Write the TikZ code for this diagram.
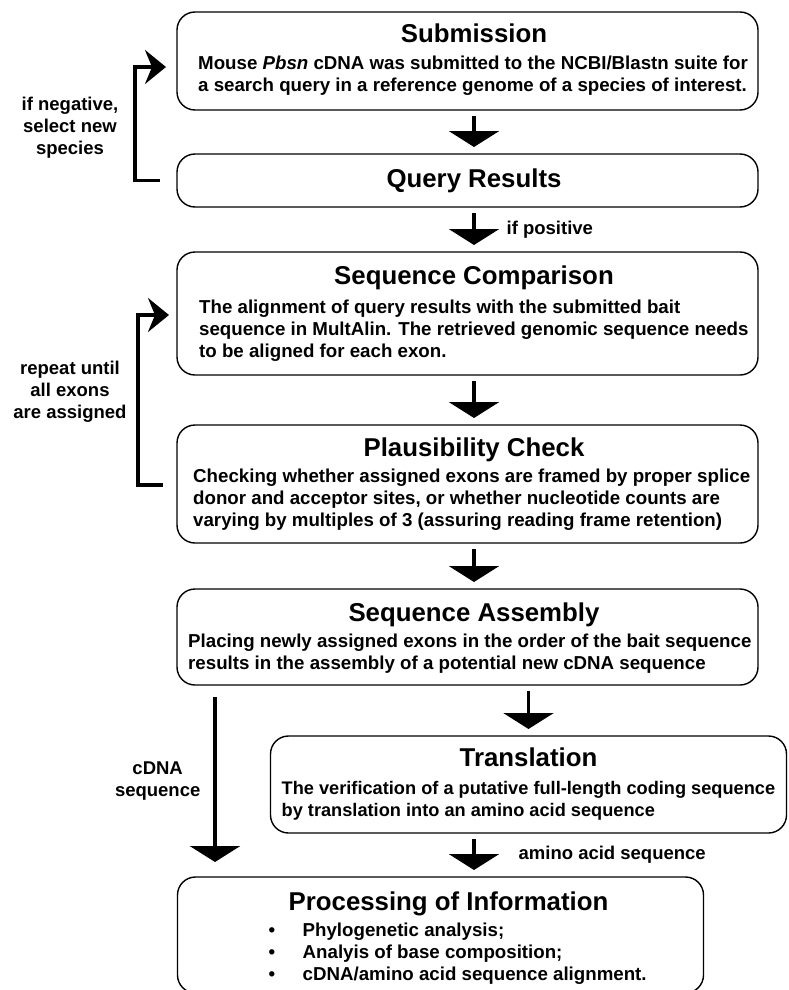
\documentclass[tikz,border=0pt]{standalone}
\usepackage{fontspec}
\setmainfont{Liberation Sans}
\usetikzlibrary{arrows.meta, positioning}

\begin{document}
\begin{tikzpicture}[x=1pt, y=-1pt,
		box/.style={draw, rounded corners=18pt, line width=1.4pt, minimum width=581pt, inner sep=0pt, outer sep=0pt},
		ttl/.style={inner sep=0pt, anchor=base, font=\fontsize{25.8}{30}\selectfont\bfseries},
		txt/.style={inner sep=0pt, anchor=north west, align=left, font=\fontsize{18.7}{22}\selectfont\bfseries},
		lbl/.style={inner sep=0pt, align=center, font=\fontsize{18.5}{22}\selectfont\bfseries},
		flowarrow/.style={-{Triangle[width=50pt, length=16pt]}, line width=3.3pt, shorten <=6pt, shorten >=7pt},
		backarrow/.style={-{Stealth[width=34pt, length=21pt, inset=7pt]}, line width=3.3pt}]

			\useasboundingbox (0,0) rectangle (788,990);

				\node [box, minimum height=98pt]	(sub)					at (467.5,61) {};
				\node [box, minimum height=53pt]	(qry)	[below=44pt of sub]		{};
				\node [box, minimum height=123pt]	(cmp)	[below=45pt of qry]		{};
				\node [box, minimum height=118pt]	(plaus)	[below=50pt of cmp]		{};
				\node [box, minimum height=96pt]	(asm)	[below=46pt of plaus]	{};
				\node [box, minimum height=97pt, minimum width=516pt]	(trans)	[below=51pt of asm, xshift=61pt]	{};
				\node [box, minimum height=116pt, minimum width=526pt]	(proc)	[below=44pt of trans, xshift=-88pt]	{};

				\coordinate (spine)	at (474,0);
				\coordinate (cdna)	at (215,0);

				\node [ttl, yshift=-31pt]	(subttl)	at (sub.north -| spine)		{Submission};
				\node [ttl, yshift=-7pt]	(qryttl)	at (qry.center -| spine)	{Query Results};
				\node [ttl, yshift=-32pt]	(cmpttl)	at (cmp.north -| spine)		{Sequence Comparison};
				\node [ttl, yshift=-31pt]	(plausttl)	at (plaus.north -| spine)	{Plausibility Check};
				\node [ttl, yshift=-32pt]	(asmttl)	at (asm.north -| spine)		{Sequence Assembly};
				\node [ttl, yshift=-30pt]	(transttl)	at (trans.north)			{Translation};
				\node [ttl, yshift=-33pt, xshift=8pt]	(procttl)	at (proc.north)	{Processing of Information};

				\node [txt, xshift=21pt, yshift=-44pt]	(subtxt)	at (sub.north west)
					{Mouse \textit{Pbsn} cDNA was submitted to the NCBI/Blastn suite for\\a search query in a reference genome of a species of interest.};
				\node [txt, xshift=22pt, yshift=-48pt]	(cmptxt)	at (cmp.north west)
					{The alignment of query results with the submitted bait\\sequence in MultAlin. The retrieved genomic sequence needs\\to be aligned for each exon.};
				\node [txt, xshift=16pt, yshift=-44pt]	(plaustxt)	at (plaus.north west)
					{Checking whether assigned exons are framed by proper splice\\donor and acceptor sites, or whether nucleotide counts are\\varying by multiples of 3 (assuring reading frame retention)};
				\node [txt, xshift=11pt, yshift=-45pt]	(asmtxt)	at (asm.north west)
					{Placing newly assigned exons in the order of the bait sequence\\results in the assembly of a potential new cDNA sequence};
				\node [txt, xshift=11pt, yshift=-45pt, font=\fontsize{18.2}{22}\selectfont\bfseries]	(transtxt)	at (trans.north west)
					{The verification of a putative full-length coding sequence\\by translation into an amino acid sequence};
				\node [txt, xshift=91pt, yshift=-46pt]	(proctxt)	at (proc.north west)
					{\makebox[34pt][l]{\textbullet}Phylogenetic analysis;\\\makebox[34pt][l]{\textbullet}Analyis of base composition;\\\makebox[34pt][l]{\textbullet}cDNA/amino acid sequence alignment.};

				\node [lbl]	(neg)	at (70,128)	{if negative,\\select new\\species};
				\node [lbl]	(rep)	at (70,392)	{repeat until\\all exons\\are assigned};

				\path	(sub.south -| spine)	edge [flowarrow]	(qry.north -| spine)
						(qry.south -| spine)	edge [flowarrow]	node [lbl, right=31pt] {if positive}	(cmp.north -| spine)
						(cmp.south -| spine)	edge [flowarrow]	(plaus.north -| spine)
						(plaus.south -| spine)	edge [flowarrow]	(asm.north -| spine)
						(asm.south -| trans)	edge [flowarrow]	(trans.north)
						(trans.south -| spine)	edge [flowarrow]	node [lbl, right=43pt] {amino acid sequence}	(proc.north -| spine)
						(asm.south -| cdna)		edge [flowarrow, shorten <=12pt, shorten >=15pt]	node [lbl, left=13pt] {cDNA\\sequence}	(proc.north -| cdna)
				;

				\draw [backarrow] ([xshift=-17pt]qry.west) -- ++(-25,0) |- ([xshift=-11pt, yshift=-6pt]sub.west);
				\draw [backarrow] ([xshift=-14pt, yshift=-1pt]plaus.west) -- ++(-25,0) |- ([xshift=-8pt, yshift=-1.5pt]cmp.west);

			\end{tikzpicture}
\end{document}
